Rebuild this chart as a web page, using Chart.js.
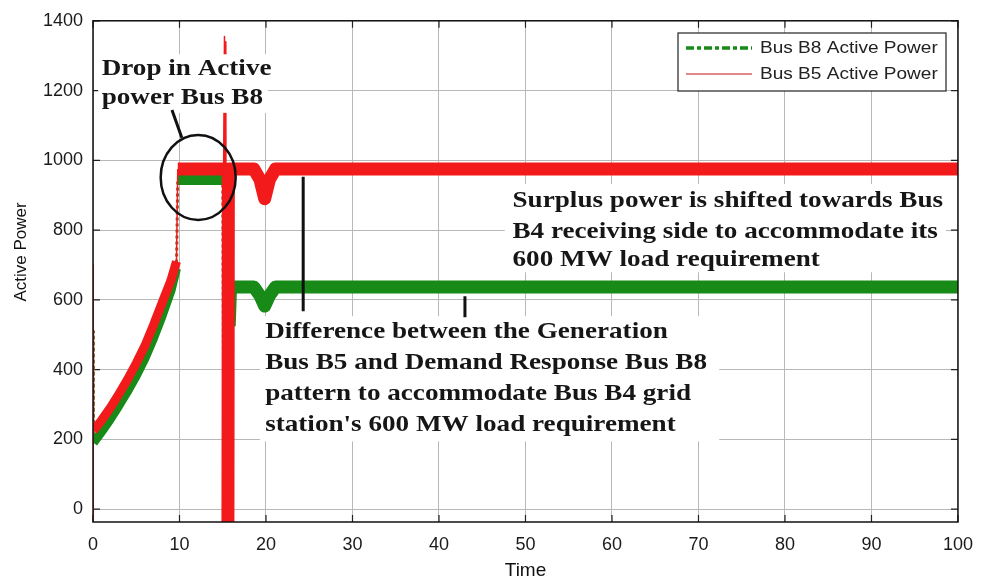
<!DOCTYPE html>
<html>
<head>
<meta charset="utf-8">
<title>Bus B5 / Bus B8 Active Power</title>
<script src="https://cdn.jsdelivr.net/npm/chart.js@4.4.0/dist/chart.umd.min.js"></script>
<style>
  html, body { margin: 0; padding: 0; background: #fff; }
</style>
</head>
<body>
<canvas id="powerChart" width="985" height="585"></canvas>
<script>
// Bus B8 (demand response side) active power vs time
const b8Time  = [0, 0.05, 1, 2, 3, 4, 5, 6, 7, 8, 9, 9.65, 9.8, 15.0, 15.15, 15.55, 15.65, 15.75, 15.9, 18.6, 19.3, 19.85, 20.4, 21.1, 100];
const b8Power = [510, 190, 222, 258, 297, 338, 382, 432, 490, 555, 625, 690, 948, 948, -40, -40, 800, 525, 637, 637, 612, 582, 612, 637, 637];

// Bus B5 (generation side) active power vs time
const b5Time  = [0, 0, 0.05, 1, 2, 3, 4, 5, 6, 7, 8, 9, 9.65, 9.8, 15.1, 15.2, 15.28, 15.35, 15.42, 15.6, 15.65, 18.6, 19.3, 19.85, 20.4, 21.1, 100];
const b5Power = [-40, 700, 225, 255, 290, 330, 372, 418, 468, 528, 592, 655, 710, 975, 975, 1355, -40, 1340, -40, -40, 975, 975, 945, 890, 945, 975, 975];

const xTicks = [0, 10, 20, 30, 40, 50, 60, 70, 80, 90, 100];
const yTicks = [0, 200, 400, 600, 800, 1000, 1200, 1400];

const RED = '#f21a1a';
const GREEN = '#178a17';
const BROWN = '#8b5a2b';

const toPoints = (xs, ys) => xs.map((t, i) => ({ x: t, y: ys[i] }));

// switching instants are drawn as thin traces, the ramp a bit narrower than steady state
const inRange = (c, a, b) => c.p0.parsed.x >= a && c.p1.parsed.x <= b;
const onRamp = c => inRange(c, 0.04, 9.7);
const b8Jump = c => inRange(c, 0, 0.06) || inRange(c, 9.6, 9.85) || inRange(c, 14.95, 15.2);
const b8Kick = c => inRange(c, 15.5, 15.8);
const b5Thin = c => inRange(c, 0, 0.06) || inRange(c, 9.6, 9.85) || inRange(c, 15.05, 15.45);

const b5Width = c => b5Thin(c) ? 1.5 : onRamp(c) ? 9 : undefined;
const b8Width = c => b8Jump(c) ? 3 : b8Kick(c) ? 5 : onRamp(c) ? 9 : undefined;

const sansFamily = '"Liberation Sans", Arial, sans-serif';
const noteFont = 'bold 23px "Liberation Serif", "Times New Roman", serif';
const noteStretch = 1.18;
const notes = [
  { box: [0.6, 20.2, 1304, 1136], left: 1.0, rows: [1262, 1178],
    lines: ['Drop in Active', 'power Bus B8'] },
  { box: [47.6, 98.6, 932, 679], left: 48.5, rows: [883, 794, 713],
    lines: ['Surplus power is shifted towards Bus', 'B4 receiving side to accommodate its', '600 MW load requirement'] },
  { box: [19.3, 72.4, 553, 194], left: 19.9, rows: [508, 419, 329, 241],
    lines: ['Difference between the Generation', 'Bus B5 and Demand Response Bus B8', 'pattern to accommodate Bus B4 grid', "station's 600 MW load requirement"] }
];
// pointer strokes: [t0, v0, t1, v1]
const pointers = [[9.13, 1144, 10.27, 1065], [24.3, 953, 24.3, 567], [43.0, 610, 43.0, 550]];

const framePlugin = {
  id: 'frame',
  beforeDatasetsDraw(chart) {
    const { ctx, chartArea: a, scales: { x, y } } = chart;
    ctx.save();
    ctx.strokeStyle = '#222';
    ctx.lineWidth = 1.2;
    ctx.beginPath();
    xTicks.forEach(v => {
      const px = x.getPixelForValue(v);
      ctx.moveTo(px, a.bottom); ctx.lineTo(px, a.bottom - 7);
      ctx.moveTo(px, a.top); ctx.lineTo(px, a.top + 7);
    });
    yTicks.forEach(v => {
      const py = y.getPixelForValue(v);
      ctx.moveTo(a.left, py); ctx.lineTo(a.left + 7, py);
      ctx.moveTo(a.right, py); ctx.lineTo(a.right - 7, py);
    });
    ctx.stroke();
    ctx.restore();
  },
  afterDraw(chart) {
    const { ctx, chartArea: a } = chart;
    ctx.save();
    ctx.strokeStyle = '#111';
    ctx.lineWidth = 1.5;
    ctx.strokeRect(a.left, a.top, a.right - a.left, a.bottom - a.top);
    // y axis title
    ctx.translate(21, 252);
    ctx.rotate(-Math.PI / 2);
    ctx.fillStyle = '#111';
    ctx.font = '17px ' + sansFamily;
    ctx.textAlign = 'center';
    ctx.textBaseline = 'middle';
    ctx.fillText('Active Power', 0, 0);
    ctx.restore();
  }
};

const notesPlugin = {
  id: 'notes',
  afterDatasetsDraw(chart) {
    const { ctx, scales: { x, y } } = chart;
    ctx.save();
    notes.forEach(n => {
      const [t0, t1, v0, v1] = n.box;
      const bx = x.getPixelForValue(t0), by = y.getPixelForValue(v0);
      ctx.fillStyle = '#fff';
      ctx.fillRect(bx, by, x.getPixelForValue(t1) - bx, y.getPixelForValue(v1) - by);
      ctx.fillStyle = '#161616';
      ctx.font = noteFont;
      ctx.textAlign = 'left';
      ctx.textBaseline = 'middle';
      n.lines.forEach((s, i) => {
        ctx.save();
        ctx.translate(x.getPixelForValue(n.left), y.getPixelForValue(n.rows[i]));
        ctx.scale(noteStretch, 1);
        ctx.fillText(s, 0, 0);
        ctx.restore();
      });
    });
    ctx.strokeStyle = '#111';
    ctx.lineWidth = 3;
    ctx.beginPath();
    pointers.forEach(([t0, v0, t1, v1]) => {
      ctx.moveTo(x.getPixelForValue(t0), y.getPixelForValue(v0));
      ctx.lineTo(x.getPixelForValue(t1), y.getPixelForValue(v1));
    });
    ctx.stroke();
    // circle around the B8 plateau
    ctx.lineWidth = 2.5;
    ctx.beginPath();
    ctx.ellipse(x.getPixelForValue(12.16), y.getPixelForValue(951), 37.5, 42.5, 0, 0, Math.PI * 2);
    ctx.stroke();
    ctx.restore();
  }
};

const legendPlugin = {
  id: 'boxLegend',
  afterDraw(chart) {
    const { ctx } = chart;
    const items = [chart.data.datasets[1], chart.data.datasets[0]];
    ctx.save();
    ctx.fillStyle = '#fff';
    ctx.fillRect(678, 33, 268, 58);
    ctx.strokeStyle = '#222';
    ctx.lineWidth = 1.2;
    ctx.strokeRect(678, 33, 268, 58);
    items.forEach((ds, i) => {
      const cy = 48 + i * 26;
      ctx.beginPath();
      if (i === 0) {
        ctx.strokeStyle = ds.borderColor;
        ctx.lineWidth = 3.5;
        ctx.setLineDash([8, 3, 4, 3]);
      } else {
        ctx.strokeStyle = '#d96060';
        ctx.lineWidth = 1.5;
        ctx.setLineDash([]);
      }
      ctx.moveTo(686, cy); ctx.lineTo(752, cy);
      ctx.stroke();
      ctx.setLineDash([]);
      ctx.save();
      ctx.translate(760, cy);
      ctx.scale(1.12, 1);
      ctx.fillStyle = '#222';
      ctx.font = '17px ' + sansFamily;
      ctx.textBaseline = 'middle';
      ctx.fillText(ds.label, 0, 0);
      ctx.restore();
    });
    ctx.restore();
  }
};

new Chart(document.getElementById('powerChart'), {
  type: 'line',
  data: {
    datasets: [
      {
        label: 'Bus B5 Active Power',
        data: toPoints(b5Time, b5Power),
        borderColor: RED,
        borderWidth: 13,
        borderJoinStyle: 'round',
        pointRadius: 0,
        tension: 0,
        clip: 0,
        order: 0,
        segment: { borderWidth: b5Width }
      },
      {
        label: 'Bus B8 Active Power',
        data: toPoints(b8Time, b8Power),
        borderColor: GREEN,
        borderWidth: 13,
        borderJoinStyle: 'round',
        pointRadius: 0,
        tension: 0,
        clip: 0,
        order: 1,
        segment: {
          borderWidth: b8Width,
          borderColor: c => b8Jump(c) ? BROWN : undefined,
          borderDash: c => b8Jump(c) ? [3, 3] : undefined
        }
      }
    ]
  },
  options: {
    responsive: false,
    devicePixelRatio: 1,
    animation: false,
    layout: { padding: { left: 0, top: 11, right: 17, bottom: 0 } },
    plugins: {
      legend: { display: false },
      tooltip: { enabled: false }
    },
    scales: {
      x: {
        type: 'linear',
        min: 0,
        max: 100,
        afterBuildTicks: s => { s.ticks = xTicks.map(v => ({ value: v })); },
        afterFit: s => { s.height = 63; },
        grid: { color: '#b8b8b8', lineWidth: 1, drawTicks: false },
        border: { display: false },
        ticks: {
          color: '#1a1a1a',
          padding: 12,
          maxRotation: 0,
          callback: v => String(v),
          font: { family: sansFamily, size: 18 }
        },
        title: {
          display: true,
          text: 'Time',
          color: '#111',
          padding: { top: 0, bottom: 3 },
          font: { family: sansFamily, size: 19 }
        }
      },
      y: {
        type: 'linear',
        min: -37,
        max: 1400,
        afterBuildTicks: s => { s.ticks = yTicks.map(v => ({ value: v })); },
        afterFit: s => { s.width = 93; },
        grid: { color: '#b8b8b8', lineWidth: 1, drawTicks: false },
        border: { display: false },
        ticks: {
          color: '#1a1a1a',
          padding: 10,
          callback: v => String(v),
          font: { family: sansFamily, size: 18 }
        }
      }
    }
  },
  plugins: [framePlugin, notesPlugin, legendPlugin]
});
</script>
</body>
</html>
